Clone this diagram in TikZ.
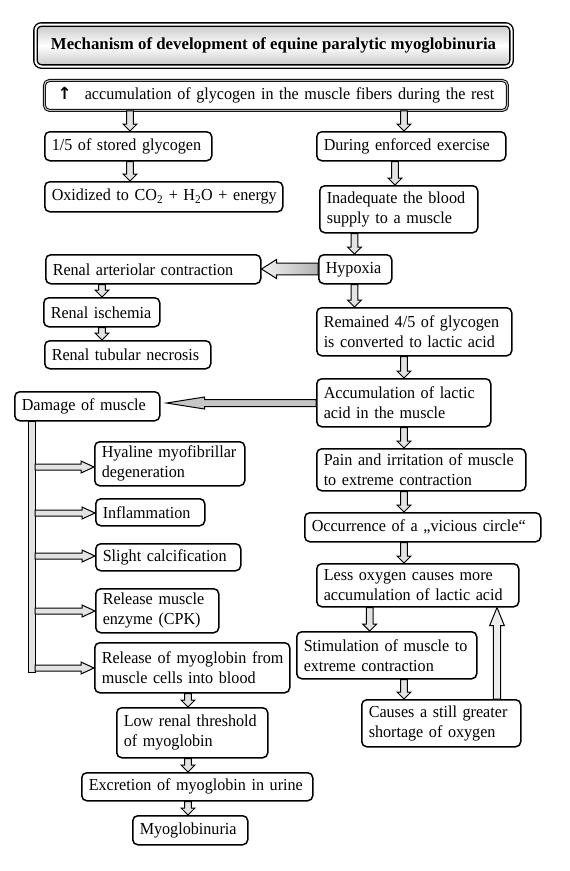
\documentclass[tikz,border=0pt]{standalone}
\usepackage{fontspec}
\setmainfont{Liberation Serif}[FakeStretch=0.96]
\newfontfamily\titlefont{Liberation Serif}
\newfontfamily\arrowfont{DejaVu Sans}
\usetikzlibrary{calc}
\def\bsw{3.3pt}\def\bhw{7pt}\def\bhl{7pt}
\newcommand\oneline[1]{\mbox{#1}}
\tikzset{
  bsize/.code args={#1/#2/#3}{\def\bsw{#1}\def\bhw{#2}\def\bhl{#3}},
  blk/.style={draw=black, line width=1pt, fill=gray!22, line join=miter,
    to path={let \p1=(\tikztostart), \p2=(\tikztotarget),
      \n1={veclen(\x2-\x1,\y2-\y1)}, \n2={(\x2-\x1)/\n1}, \n3={(\y2-\y1)/\n1},
      \n4={\n1-\bhl} in
      ({\x1-(\n3)*\bsw},{\y1+(\n2)*\bsw})
      -- ({\x1+(\n2)*(\n4)-(\n3)*\bsw},{\y1+(\n3)*(\n4)+(\n2)*\bsw})
      -- ({\x1+(\n2)*(\n4)-(\n3)*\bhw},{\y1+(\n3)*(\n4)+(\n2)*\bhw})
      -- (\x2,\y2)
      -- ({\x1+(\n2)*(\n4)+(\n3)*\bhw},{\y1+(\n3)*(\n4)-(\n2)*\bhw})
      -- ({\x1+(\n2)*(\n4)+(\n3)*\bsw},{\y1+(\n3)*(\n4)-(\n2)*\bsw})
      -- ({\x1+(\n3)*\bsw},{\y1-(\n2)*\bsw}) -- cycle}},
  bx/.style={draw, line width=1.5pt, rounded corners=5pt, inner xsep=7pt,
    inner ysep=0pt, align=left, anchor=north west, fill=white},
  trunkst/.style={draw=black, line width=1pt, fill=gray!22},
}
\begin{document}
\begin{tikzpicture}[x=1pt, y=-1pt, font=\fontsize{16.8}{20}\selectfont]
\useasboundingbox (0,0) rectangle (570,871);

% title
\node[draw, double=white, double distance=2pt, line width=1.4pt, rounded corners=6pt,
  top color=gray!45, bottom color=gray!45, middle color=white,
  minimum width=476pt, minimum height=42pt, inner sep=0pt, font=\titlefont\fontsize{16.8}{20}\selectfont\bfseries]
  (title) at (273.5,45.5) {Mechanism of development of equine paralytic myoglobinuria};

\node[bx, double=gray!55, double distance=1.2pt, line width=0.9pt, align=center,
  text width=449pt, minimum height=30pt] (accum) at (44,80)
  {{\arrowfont\bfseries ↑}\hspace{0.45em} accumulation of glycogen in the muscle fibers during the rest};

\node[bx, text width=153pt, minimum height=29pt] (fifth) at (44,131) {\oneline{1/5 of stored glycogen}};
\node[bx, text width=175pt, minimum height=29pt] (during) at (316,131) {\oneline{During enforced exercise}};
\node[bx, text width=224pt, minimum height=30pt] (oxid) at (44,181) {\oneline{Oxidized to CO\textsubscript{2} + H\textsubscript{2}O + energy}};
\node[bx, text width=144pt, minimum height=47pt] (inadeq) at (319,185) {\oneline{Inadequate the blood}\\\oneline{supply to a muscle}};
\node[bx, text width=201pt, minimum height=29pt] (renart) at (45,254) {\oneline{Renal arteriolar contraction}};
\node[bx, text width=59pt, minimum height=29pt] (hypoxia) at (318,254) {\oneline{Hypoxia}};
\node[bx, text width=102pt, minimum height=29pt] (renisch) at (43,297) {\oneline{Renal ischemia}};
\node[bx, text width=152pt, minimum height=28pt] (rentub) at (44,340) {\oneline{Renal tubular necrosis}};
\node[bx, text width=181pt, minimum height=48pt] (remained) at (316,307) {\oneline{Remained 4/5 of glycogen}\\\oneline{is converted to lactic acid}};
\node[bx, text width=131pt, minimum height=29pt] (damage) at (14,391) {\oneline{Damage of muscle}};
\node[bx, text width=160pt, minimum height=48pt] (acclact) at (316,378) {\oneline{Accumulation of lactic}\\\oneline{acid in the muscle}};
\node[bx, text width=136pt, minimum height=44pt] (hyaline) at (94,441) {\oneline{Hyaline myofibrillar}\\\oneline{degeneration}};
\node[bx, text width=195pt, minimum height=42pt] (pain) at (316,448) {\oneline{Pain and irritation of muscle}\\\oneline{to extreme contraction}};
\node[bx, text width=95pt, minimum height=27pt] (inflam) at (95,498) {\oneline{Inflammation}};
\node[bx, text width=222pt, minimum height=29pt] (occ) at (304,512) {\oneline{Occurrence of a „vicious circle“}};
\node[bx, text width=131pt, minimum height=27pt] (calc) at (95,543) {\oneline{Slight calcification}};
\node[bx, text width=188pt, minimum height=43pt] (lessox) at (316,563) {\oneline{Less oxygen causes more}\\\oneline{accumulation of lactic acid}};
\node[bx, text width=109pt, minimum height=44pt] (enzyme) at (95,588) {\oneline{Release muscle}\\\oneline{enzyme (CPK)}};
\node[bx, text width=166pt, minimum height=47pt] (stim) at (296,631) {\oneline{Stimulation of muscle to}\\\oneline{extreme contraction}};
\node[bx, text width=181pt, minimum height=50pt] (relmyo) at (94,642) {\oneline{Release of myoglobin from}\\\oneline{muscle cells into blood}};
\node[bx, text width=145pt, minimum height=47pt] (causes) at (361,699) {\oneline{Causes a still greater}\\\oneline{shortage of oxygen}};
\node[bx, text width=137pt, minimum height=50pt] (lowren) at (116,707) {\oneline{Low renal threshold}\\\oneline{of myoglobin}};
\node[bx, text width=217pt, minimum height=28pt] (excr) at (81,772) {\oneline{Excretion of myoglobin in urine}};
\node[bx, text width=101pt, minimum height=29pt] (myoglob) at (132,815) {\oneline{Myoglobinuria}};

% column coordinates
\coordinate (xa) at (130,0);
\coordinate (xb) at (404,0);
\coordinate (xc) at (395,0);
\coordinate (xd) at (354.5,0);
\coordinate (xe) at (102,0);
\coordinate (xf) at (369.7,0);
\coordinate (xh) at (497,0);
\coordinate (xi) at (188,0);
\coordinate (yh) at (0,269);
\coordinate (ya) at (0,403);
\coordinate (tk) at (31.5,0);
\coordinate (tkb) at (31.5,672);
\coordinate (b1) at (35,467);
\coordinate (b2) at (35,513);
\coordinate (b3) at (35,556);
\coordinate (b4) at (35,611);
\coordinate (b5) at (35,668);

% vertical arrows
\draw[blk] (accum.south -| xa) to (fifth.north -| xa);
\draw[blk] (accum.south -| xb) to (during.north -| xb);
\draw[blk] (fifth.south -| xa) to (oxid.north -| xa);
\draw[blk] (during.south -| xc) to (inadeq.north -| xc);
\draw[blk] (inadeq.south -| xd) to (hypoxia.north -| xd);
\draw[blk] (hypoxia.south -| xd) to (remained.north -| xd);
\draw[blk] (renart.south -| xe) to (renisch.north -| xe);
\draw[blk] (renisch.south -| xe) to (rentub.north -| xe);
\draw[blk] (remained.south -| xb) to (acclact.north -| xb);
\draw[blk] (acclact.south -| xb) to (pain.north -| xb);
\draw[blk] (pain.south -| xb) to (occ.north -| xb);
\draw[blk] (occ.south -| xb) to (lessox.north -| xb);
\draw[blk] (lessox.south -| xf) to (stim.north -| xf);
\draw[blk] (stim.south -| xb) to (causes.north -| xb);
\draw[blk] (relmyo.south -| xi) to (lowren.north -| xi);
\draw[blk] (lowren.south -| xi) to (excr.north -| xi);
\draw[blk] (excr.south -| xi) to (myoglob.north -| xi);

% feedback arrow
\draw[blk, bsize=3.7pt/7.3pt/18pt, fill=gray!15] (causes.north -| xh) to (lessox.south -| xh);

% horizontal arrows
\draw[blk, bsize=5.8pt/9.5pt/15pt, left color=gray!10, right color=gray!60] (hypoxia.west |- yh) to (renart.east |- yh);
\draw[blk, bsize=3.5pt/6pt/38pt, fill=gray!45] (acclact.west |- ya) to ($(damage.east |- ya)+(6pt,0)$);

% trunk and branches
\draw[trunkst] ($(damage.south -| tk)+(-3.5pt,0)$) rectangle ($(tkb)+(3.5pt,0)$);
\draw[blk, bsize=3pt/6pt/13pt] (b1) to (hyaline.west |- b1);
\draw[blk, bsize=3pt/6pt/13pt] (b2) to (inflam.west |- b2);
\draw[blk, bsize=3pt/6pt/13pt] (b3) to (calc.west |- b3);
\draw[blk, bsize=3pt/6pt/13pt] (b4) to (enzyme.west |- b4);
\draw[blk, bsize=3pt/6pt/13pt] (b5) to (relmyo.west |- b5);
\end{tikzpicture}
\end{document}
